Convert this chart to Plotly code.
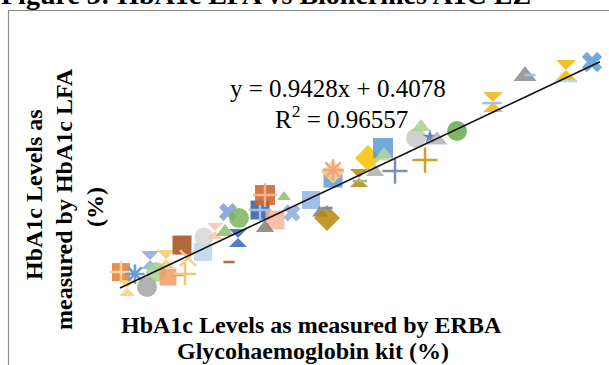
import plotly.graph_objects as go

# ---- data (HbA1c %, ERBA kit vs LFA) ----
erba_x = [5.02, 5.02, 5.14, 5.30, 5.60, 5.92, 5.72, 5.54, 5.96, 6.18,
          6.30, 6.24, 6.36, 6.66, 6.68, 7.18, 6.90, 7.10, 7.36, 7.16,
          7.38, 7.80, 7.80, 8.10, 7.90, 7.90, 7.90, 8.28, 8.44, 8.82,
          9.00, 9.14, 9.14, 9.26, 9.26, 9.26, 9.78, 9.80, 9.96, 10.26,
          10.28, 10.10, 10.50, 10.92, 11.02, 11.20, 11.34, 11.74, 11.10, 12.46,
          12.44, 13.10, 13.20, 13.92, 13.92, 14.44]
lfa_y = [5.76, 5.76, 5.12, 5.68, 6.24, 6.28, 5.76, 5.16, 5.56, 5.64,
         5.68, 6.84, 6.32, 6.56, 7.16, 6.16, 7.40, 7.36, 7.12, 8.16,
         7.92, 8.24, 8.24, 7.84, 7.52, 8.84, 8.84, 8.76, 8.12, 8.64,
         8.12, 7.92, 8.32, 9.52, 9.76, 9.84, 9.52, 9.40, 10.32, 10.72,
         10.40, 9.76, 9.80, 11.12, 11.56, 11.16, 11.04, 11.40, 10.24, 12.56,
         12.52, 13.60, 13.64, 13.84, 13.40, 14.16]

# marker styles (one Excel series per point)
symbols = ["square", "cross-thin-open", "hourglass", "asterisk-open", "hourglass", "hourglass", "circle", "circle", "square", "line-ew-open",
           "cross-thin-open", "square", "x-thin-open", "square", "circle", "line-ew-open", "hourglass", "triangle-up", "hourglass", "x",
           "circle", "square", "cross-thin-open", "square", "triangle-up", "square", "cross-thin-open", "triangle-up", "x", "square",
           "triangle-up", "diamond", "line-ew-open", "square", "diamond", "asterisk-open", "hourglass", "line-ew-open", "diamond", "square",
           "triangle-up", "triangle-up", "cross-thin-open", "circle", "triangle-up", "star", "triangle-up", "circle", "cross-thin-open", "hourglass",
           "line-ew-open", "triangle-up", "line-ew-open", "hourglass", "line-ew-open", "x"]
colors = ["#E97A35", "#FBD79A", "#F8CF7A", "#6C9BD8", "#8EA9DB", "#F9C86B", "#A9CF8F", "#A5A5A5", "#F19A66", "#A5A5A5",
          "#F6C66A", "#A64E17", "#F5CD8D", "#C0D4EC", "#D6D6D6", "#B46A3D", "#F4C6B0", "#8DBE6C", "#3B63B8", "#7B9ED8",
          "#7DB55A", "#2F5E9E", "#9DC3E6", "#F4B59A", "#808080", "#C8602A", "#F4B183", "#8DBE6C", "#8FAADC", "#8FB4E3",
          "#7F7F7F", "#B8860B", "#6C8EBF", "#5B9BD5", "#F9D58A", "#F4A582", "#B8860B", "#9DC183", "#F5C200", "#5B9BD5",
          "#B6D7A0", "#B0B0B0", "#7C8FB8", "#C8C8C8", "#A9D18E", "#4472C4", "#B4B4B4", "#6AA84F", "#C9A227", "#F2B21B",
          "#9DC3E6", "#8C8C8C", "#9DC3E6", "#F4B400", "#BDD7EE", "#5B9BD5"]
sizes = [18, 16, 16, 16, 18, 18, 20, 20, 17, 8,
         16, 19, 16, 18, 19, 8, 16, 16, 18, 16,
         20, 19, 16, 19, 16, 20, 17, 12, 15, 18,
         14, 20, 8, 19, 18, 18, 18, 10, 20, 20,
         18, 16, 18, 20, 16, 11, 18, 20, 18, 20,
         14, 20, 8, 20, 16, 18]

slope, intercept = 0.9428, 0.4078
trend_x = [5.0, 14.6]

W, H = 609, 365
def px(x):
    return x / W
def py(y):
    return 1 - y / H

fig = go.Figure()
for xv, yv, s, c, sz in zip(erba_x, lfa_y, symbols, colors, sizes):
    is_open = s.endswith("open")
    fig.add_trace(go.Scatter(
        x=[xv], y=[yv], mode="markers", showlegend=False, hoverinfo="skip",
        marker=dict(symbol=s, size=sz, color=c, opacity=1.0 if is_open else 0.85,
                    line=dict(width=2.5 if is_open else 0, color=c)),
        cliponaxis=False))

fig.add_trace(go.Scatter(
    x=trend_x, y=[slope * v + intercept for v in trend_x], mode="lines",
    line=dict(color="#111111", width=1.6), showlegend=False, hoverinfo="skip"))

serif = "Liberation Serif"
ann = []
ann.append(dict(text="<b>Figure 3: HbA1c LFA vs Biohermes A1C EZ</b>", x=px(-1), y=py(-5.5),
                xanchor="left", yanchor="middle", font=dict(family=serif, size=28, color="black")))
ann.append(dict(text="y = 0.9428x + 0.4078", x=px(337.5), y=py(88.5),
                xanchor="center", yanchor="middle", font=dict(family=serif, size=25, color="black")))
ann.append(dict(text="R<sup>2</sup> = 0.96557", x=px(341), y=py(116.5),
                xanchor="center", yanchor="middle", font=dict(family=serif, size=25, color="black")))
ann.append(dict(text="<b>HbA1c Levels as measured by ERBA</b>", x=px(311), y=py(325),
                xanchor="center", yanchor="middle", font=dict(family=serif, size=24, color="black")))
ann.append(dict(text="<b>Glycohaemoglobin kit (%)</b>", x=px(313), y=py(351),
                xanchor="center", yanchor="middle", font=dict(family=serif, size=24, color="black")))
for t, cx, cy in [("HbA1c Levels as", 34, 195), ("measured by HbA1c LFA", 64, 199), ("(%)", 95, 207)]:
    ann.append(dict(text="<b>" + t + "</b>", x=px(cx), y=py(cy), textangle=-90,
                    xanchor="center", yanchor="middle", font=dict(family=serif, size=24, color="black")))
for a in ann:
    a.update(xref="paper", yref="paper", showarrow=False)

fig.update_layout(
    width=W, height=H, margin=dict(l=0, r=0, t=0, b=0),
    paper_bgcolor="white", plot_bgcolor="white",
    xaxis=dict(range=[2.6, 2.6 + W / 50], visible=False, fixedrange=True),
    yaxis=dict(range=[16.6418 - H / 25, 16.6418], visible=False, fixedrange=True),
    annotations=ann,
    shapes=[dict(type="rect", xref="paper", yref="paper", x0=px(8.5), x1=1.05,
                 y0=-0.05, y1=py(10.5), line=dict(color="#8a8a8a", width=1.2))],
)

fig.write_html("out.html", config={"displayModeBar": False},
               post_script="document.body.style.margin='0';document.documentElement.style.margin='0';")
